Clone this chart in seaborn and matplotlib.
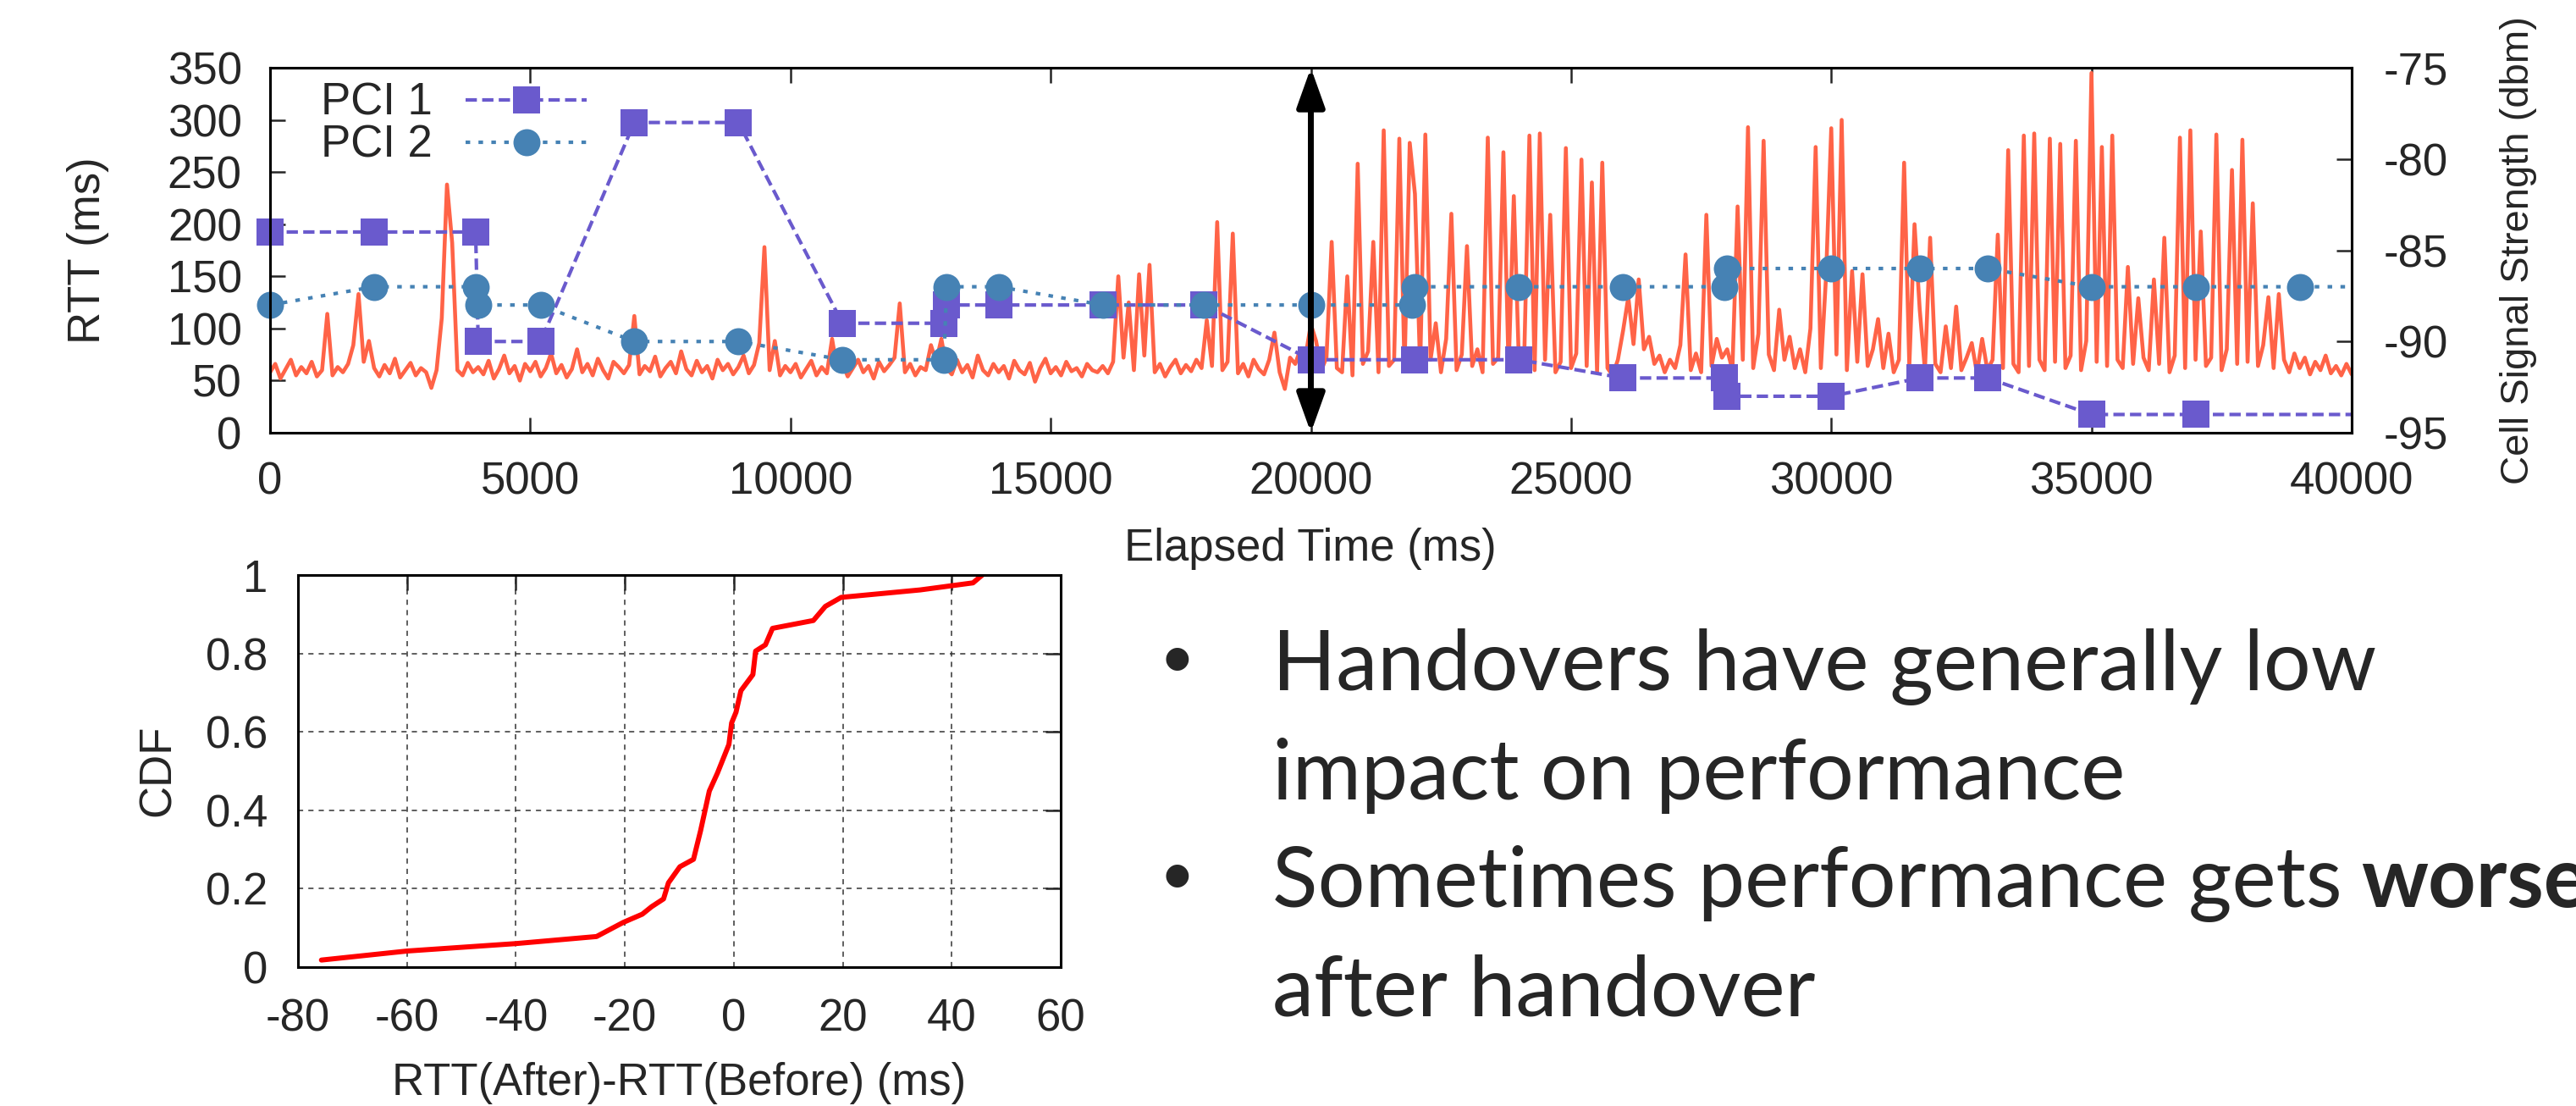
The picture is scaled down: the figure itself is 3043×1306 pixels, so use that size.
import numpy as np
import matplotlib
matplotlib.use("Agg")
import matplotlib.pyplot as plt
import seaborn as sns

# RTT trace, one sample every 100 ms from 0 to 40000 ms
rtt_step_ms = 100
rtt_ms = [
    58, 66, 52, 61, 70, 55, 63, 57, 68, 54,
    60, 114, 55, 63, 58, 66, 84, 133, 68, 88,
    62, 54, 65, 57, 71, 53, 60, 67, 55, 62,
    58, 43, 60, 110, 238, 182, 60, 55, 67, 58,
    63, 56, 69, 52, 61, 74, 57, 64, 50, 66,
    59, 68, 54, 62, 76, 57, 65, 53, 61, 80,
    58, 66, 55, 71, 60, 52, 68, 63, 57, 65,
    112, 56, 64, 59, 73, 54, 62, 68, 57, 78,
    61, 55, 69, 58, 64, 52, 70, 60, 66, 56,
    63, 74, 57, 65, 86, 178, 60, 88, 55, 64,
    58, 66, 53, 61, 69, 55, 63, 57, 90, 60,
    67, 54, 62, 70, 58, 64, 52, 68, 59, 65,
    72, 124, 58, 66, 55, 63, 60, 84, 68, 90,
    62, 56, 70, 58, 65, 53, 74, 60, 55, 66,
    58, 64, 52, 69, 60, 56, 67, 49, 62, 71,
    57, 63, 55, 68, 59, 62, 54, 66, 60, 58,
    64, 57, 68, 150, 72, 125, 60, 152, 74, 161,
    58, 66, 54, 63, 70, 57, 65, 59, 70, 62,
    108, 64, 202, 60, 68, 191, 57, 66, 54, 70,
    61, 56, 70, 96, 58, 42, 72, 66, 80, 74,
    104, 88, 60, 72, 183, 62, 58, 150, 55, 258,
    66, 78, 183, 58, 290, 64, 70, 282, 60, 278,
    229, 62, 286, 70, 105, 58, 90, 210, 60, 75,
    179, 64, 80, 58, 283, 66, 72, 269, 60, 227,
    64, 72, 285, 60, 287, 70, 209, 58, 68, 273,
    62, 76, 262, 64, 240, 58, 259, 62, 55, 70,
    98, 130, 85, 147, 80, 92, 66, 74, 58, 70,
    62, 84, 171, 60, 76, 58, 209, 64, 90, 72,
    80, 60, 217, 70, 293, 62, 95, 280, 75, 60,
    118, 70, 92, 62, 80, 58, 100, 274, 62, 150,
    292, 75, 300, 60, 155, 68, 152, 64, 80, 109,
    62, 95, 58, 70, 259, 64, 200, 118, 60, 187,
    66, 58, 102, 62, 121, 60, 72, 86, 57, 90,
    60, 70, 190, 62, 271, 66, 58, 285, 64, 287,
    70, 60, 282, 68, 277, 62, 74, 280, 60, 88,
    345, 68, 274, 64, 285, 70, 62, 159, 66, 129,
    72, 60, 147, 66, 187, 58, 74, 283, 62, 290,
    70, 193, 64, 72, 286, 60, 80, 252, 66, 281,
    68, 220, 64, 84, 130, 62, 133, 70, 58, 76,
    62, 72, 56, 68, 60, 74, 57, 64, 55, 66,
    56,
]
rtt_time = np.arange(len(rtt_ms)) * rtt_step_ms

# cell signal strength of the two cells (dbm)
pci1_time = [0, 2000, 3950, 4000, 5200, 7000, 9000, 11000, 12950, 13000, 14000,
             16000, 17950, 20000, 22000, 24000, 26000, 27950, 28000, 30000,
             31700, 33000, 35000, 37000, 40000]
pci1_dbm = [-84, -84, -84, -90, -90, -78, -78, -89, -89, -88, -88,
            -88, -88, -91, -91, -91, -92, -92, -93, -93,
            -92, -92, -94, -94, -94]
pci2_time = [0, 2000, 3950, 4000, 5200, 7000, 9000, 11000, 12950, 13000, 14000,
             16000, 17950, 20000, 21950, 22000, 24000, 26000, 27950, 28000,
             30000, 31700, 33000, 35000, 37000, 39000, 40000]
pci2_dbm = [-88, -87, -87, -88, -88, -90, -90, -91, -91, -87, -87,
            -88, -88, -88, -88, -87, -87, -87, -87, -86,
            -86, -86, -86, -87, -87, -87, -87]
handover_ms = 20000

# CDF of RTT change across handovers
cdf_x = [-75.7, -60, -40, -25.2, -20.3, -16.8, -15.1, -12.9, -12.0, -9.9, -7.4,
         -6.1, -4.5, -3.0, -0.9, -0.4, 0.4, 1.3, 3.5, 4.0, 5.8, 7.1, 14.6,
         16.8, 19.7, 34.2, 43.9, 45.6]
cdf_y = [0.018, 0.041, 0.06, 0.078, 0.114, 0.135, 0.154, 0.174, 0.215, 0.256,
         0.275, 0.348, 0.449, 0.495, 0.568, 0.623, 0.650, 0.705, 0.746, 0.806,
         0.822, 0.864, 0.884, 0.920, 0.943, 0.962, 0.980, 1.0]

time_ticks = [0, 5000, 10000, 15000, 20000, 25000, 30000, 35000, 40000]
rtt_ticks = [0, 50, 100, 150, 200, 250, 300, 350]
dbm_ticks = [-95, -90, -85, -80, -75]
cdf_xticks = [-80, -60, -40, -20, 0, 20, 40, 60]
cdf_yticks = [0, 0.2, 0.4, 0.6, 0.8, 1.0]
cdf_yticklabels = ["0", "0.2", "0.4", "0.6", "0.8", "1"]

bullet_lines = ["Handovers have generally low", "impact on performance",
                "Sometimes performance gets", "after handover"]
bullet_bold = "worse"

W, H = 3043, 1306
sns.set_style("white")
plt.rcParams["font.family"] = ["Liberation Sans", "DejaVu Sans"]
plt.rcParams["axes.unicode_minus"] = False


def fx(px):
    return px / W


def fy(py):
    return 1 - py / H


fig = plt.figure(figsize=(W / 100, H / 100), dpi=100)
fs = 38

# top panel: RTT and signal strength over time
ax = fig.add_axes([fx(319), fy(511), fx(2778 - 319), (511 - 80) / H])
ax2 = ax.twinx()

sns.lineplot(x=rtt_time, y=rtt_ms, ax=ax, color="#FF6347", linewidth=3.3,
             estimator=None)
sns.lineplot(x=pci1_time, y=pci1_dbm, ax=ax2, color="#6A5ACD", linewidth=3,
             linestyle=(0, (3.2, 1.5)), marker="s", markersize=23,
             markeredgewidth=0, markevery=list(range(len(pci1_time) - 1)),
             estimator=None, sort=False, clip_on=False, label="PCI 1")
sns.lineplot(x=pci2_time, y=pci2_dbm, ax=ax2, color="#4682B4", linewidth=3,
             linestyle=(0, (1.3, 2.35)), marker="o", markersize=23,
             markeredgewidth=0, markevery=list(range(len(pci2_time) - 1)),
             estimator=None, sort=False, clip_on=False, label="PCI 2")

ax.set_xlim(0, 40000)
ax.set_ylim(0, 350)
ax2.set_ylim(-95, -75)
ax.set_xticks(time_ticks)
ax.set_xticklabels([str(t) for t in time_ticks])
ax.set_yticks(rtt_ticks)
ax2.set_yticks(dbm_ticks)
ax2.set_yticklabels([str(v) for v in dbm_ticks])
ax.tick_params(axis="x", direction="in", length=13, width=1.8, labelsize=fs,
               pad=24, top=True, bottom=True)
ax.tick_params(axis="y", direction="in", length=13, width=1.8, labelsize=fs,
               pad=24, right=False)
ax2.tick_params(axis="y", direction="in", length=13, width=1.8, labelsize=fs,
                pad=27)
for a in (ax, ax2):
    a.set_xlabel("")
    a.set_ylabel("")
    for sp in a.spines.values():
        sp.set_color("black")
        sp.set_linewidth(2.2)

ax2.annotate("", xy=(handover_ms, -75), xytext=(handover_ms, -95),
             xycoords="data", textcoords="data", zorder=10,
             arrowprops=dict(arrowstyle="<|-|>,head_length=1.4,head_width=0.5",
                             mutation_scale=20, color="black", lw=5,
                             shrinkA=0, shrinkB=0))

handles = ax2.get_lines()[:2]
ax2.legend(handles, ["PCI 1", "PCI 2"], loc="upper left",
           bbox_to_anchor=(fx(379), fy(97)), bbox_transform=fig.transFigure,
           frameon=False, markerfirst=False, handlelength=2.7,
           handletextpad=0.75, labelspacing=0.0, borderpad=0,
           borderaxespad=0, fontsize=fs, numpoints=1)

fig.text(fx(104), fy(296), "RTT (ms)", rotation=90, ha="center", va="center",
         fontsize=fs)
fig.text(fx(1548), fy(662), "Elapsed Time (ms)", ha="center", va="baseline",
         fontsize=fs)
fig.text(fx(2975), fy(296), "Cell Signal Strength (dbm)", rotation=90,
         ha="center", va="center", fontsize=34)

# bottom-left panel: CDF
bx = fig.add_axes([fx(352), fy(1142), fx(1253 - 352), (1142 - 679) / H])
sns.lineplot(x=cdf_x, y=cdf_y, ax=bx, color="#FF0000", linewidth=4.3,
             estimator=None, sort=False)
bx.set_xlim(-80, 60)
bx.set_ylim(0, 1)
bx.set_xticks(cdf_xticks)
bx.set_xticklabels([str(v) for v in cdf_xticks])
bx.set_yticks(cdf_yticks)
bx.set_yticklabels(cdf_yticklabels)
bx.grid(True, color="0.2", linewidth=1.1, linestyle=(0, (4, 4)))
bx.tick_params(axis="both", direction="in", length=13, width=1.8,
               labelsize=fs, top=True, right=True)
bx.tick_params(axis="x", pad=26)
bx.tick_params(axis="y", pad=26)
bx.set_xlabel("")
bx.set_ylabel("")
for sp in bx.spines.values():
    sp.set_color("black")
    sp.set_linewidth(2.2)

fig.text(fx(187), fy(910), "CDF", rotation=90, ha="center", va="center",
         fontsize=fs)
fig.text(fx(802), fy(1293), "RTT(After)-RTT(Before) (ms)", ha="center",
         va="baseline", fontsize=fs)

# bullet text on the right (the reference slide cuts "worse" at its edge)
tfs = 71
tfam = ["Lato", "DejaVu Sans"]
baselines = [815, 944, 1071, 1200]
for py in (779, 1035):
    fig.text(fx(1390), fy(py), "\u2022", ha="center", va="center",
             fontsize=52, family=tfam)
line_texts = []
for line, py in zip(bullet_lines, baselines):
    line_texts.append(fig.text(fx(1503), fy(py), line, ha="left",
                               va="baseline", fontsize=tfs, family=tfam))

renderer = fig.canvas.get_renderer()
bb = line_texts[2].get_window_extent(renderer=renderer)
space_px = 0.23 * tfs * 100 / 72
fig.text((bb.x1 + space_px) / W, fy(baselines[2]), bullet_bold, ha="left",
         va="baseline", fontsize=tfs, fontweight="bold", family=tfam)

fig.savefig("out.png", dpi=100)
